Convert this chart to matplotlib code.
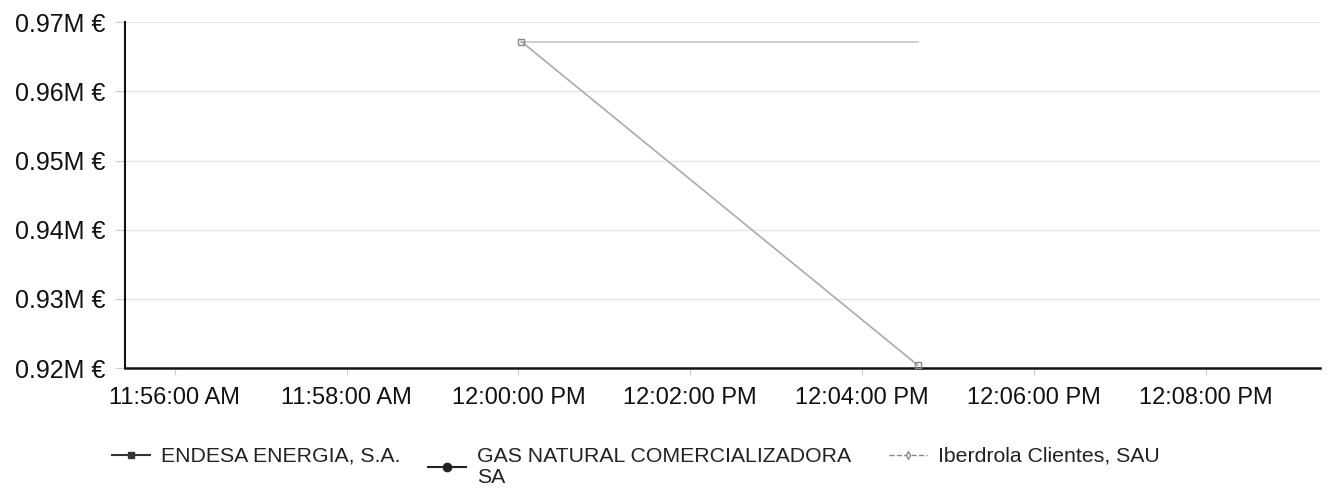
import matplotlib
matplotlib.use("Agg")
import matplotlib.pyplot as plt
from datetime import datetime

plt.rcParams['font.family'] = ['Liberation Sans', 'DejaVu Sans']

# Data
endesa_times = ["2023-01-01 12:00:02", "2023-01-01 12:04:39"]
endesa_values = [0.9672, 0.9204]
gas_times = []
gas_values = []
iberdrola_times = ["2023-01-01 12:00:02", "2023-01-01 12:04:39"]
iberdrola_values = [0.9672, 0.9672]

series_names = ["ENDESA ENERGIA, S.A.", "GAS NATURAL COMERCIALIZADORA\nSA", "Iberdrola Clientes, SAU"]
y_ticks = [0.92, 0.93, 0.94, 0.95, 0.96, 0.97]
y_tick_labels = ["0.92M €", "0.93M €", "0.94M €", "0.95M €", "0.96M €", "0.97M €"]
x_ticks = ["11:56", "11:58", "12:00", "12:02", "12:04", "12:06", "12:08"]
x_tick_labels = ["11:56:00 AM", "11:58:00 AM", "12:00:00 PM", "12:02:00 PM",
                 "12:04:00 PM", "12:06:00 PM", "12:08:00 PM"]

def to_dt(s):
    return datetime.strptime(s, "%Y-%m-%d %H:%M:%S")

W, H = 1328, 493
fig = plt.figure(figsize=(W / 100, H / 100), dpi=100)
ax = fig.add_axes([0.094, 0.2535, 0.9, 0.7015])

ax.plot([to_dt(t) for t in endesa_times], endesa_values, color='#aaaaaa', lw=1.2,
        marker='s', ms=4, mfc='none', mec='#888888', zorder=3)
ax.plot([to_dt(t) for t in gas_times], gas_values, color='#333333', lw=1.5,
        marker='o', ms=6, zorder=3)
ax.plot([to_dt(t) for t in iberdrola_times], iberdrola_values, color='#c8c8c8', lw=1.2,
        zorder=2)

xt = [datetime(2023, 1, 1, int(t.split(":")[0]), int(t.split(":")[1])) for t in x_ticks]
ax.set_xlim(datetime(2023, 1, 1, 11, 55, 25), datetime(2023, 1, 1, 12, 9, 20))
ax.set_xticks(xt)
ax.set_xticklabels(x_tick_labels, fontsize=17, color='#111111')
ax.set_ylim(0.92, 0.97)
ax.set_yticks(y_ticks)
ax.set_yticklabels(y_tick_labels, fontsize=18, color='#111111')

ax.grid(axis='y', color='#e6e6e6', lw=1)
ax.set_axisbelow(True)
for s in ['top', 'right']:
    ax.spines[s].set_visible(False)
ax.spines['left'].set_color('#111111')
ax.spines['left'].set_linewidth(1.5)
ax.spines['bottom'].set_color('#111111')
ax.spines['bottom'].set_linewidth(1.8)
ax.tick_params(axis='y', length=7, color='#cccccc', pad=7)
ax.tick_params(axis='x', length=5, color='#cccccc', pad=9)

h1, = ax.plot([], [], color='#333333', lw=1.5, marker='s', ms=5)
h2, = ax.plot([], [], color='#222222', lw=1.5, marker='o', ms=6)
h3, = ax.plot([], [], color='#888888', lw=1, ls='--', marker='d', ms=4, mfc='white')

leg_specs = [(h1, series_names[0], 112), (h2, series_names[1], 428), (h3, series_names[2], 889)]
for h, name, xpx in leg_specs:
    lg = fig.legend([h], [name], loc='upper left',
                    bbox_to_anchor=(xpx / W, 1 - 447 / H), frameon=False,
                    fontsize=15.3, handlelength=1.8, handletextpad=0.5,
                    borderpad=0, borderaxespad=0)
    for t in lg.get_texts():
        t.set_color('#222222')
        t.set_linespacing(1.15)

fig.savefig("out.png", dpi=100)
